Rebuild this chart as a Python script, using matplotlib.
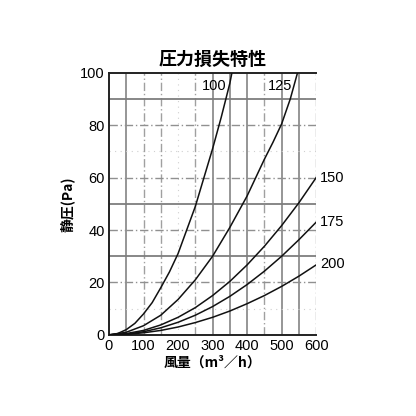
import matplotlib
matplotlib.use("Agg")
import matplotlib.pyplot as plt

# ---- data ----
x_100 = [0, 25, 50, 75, 100, 125, 150, 175, 200, 225, 250, 275, 300, 325, 350, 356]
p_100 = [0, 0.5, 2, 4.4, 8, 12.3, 18, 24, 31, 40, 49, 60, 71, 83, 96, 100]
x_125 = [0, 50, 100, 150, 200, 250, 300, 350, 375, 400, 425, 450, 475, 500, 525, 546]
p_125 = [0, 1, 3.5, 7.5, 13.5, 21, 30, 41, 47, 53, 60, 67, 73.5, 80.5, 90, 100]
airflow = [0, 50, 100, 150, 200, 250, 300, 350, 400, 450, 500, 550, 600]
p_150 = [0, 0.5, 1.7, 3.8, 6.7, 10.4, 15, 20.4, 26.7, 33.8, 41.7, 50.4, 60]
p_175 = [0, 0.3, 1.2, 2.7, 4.8, 7.5, 10.8, 14.7, 19.2, 24.3, 30, 36.3, 43]
p_200 = [0, 0.2, 0.8, 1.7, 3.0, 4.7, 6.7, 9.1, 11.9, 15, 18.5, 22.4, 26.7]
series_labels = ["100", "125", "150", "175", "200"]
x_ticks = [0, 100, 200, 300, 400, 500, 600]
y_ticks = [0, 20, 40, 60, 80, 100]
title = "圧力損失特性"
xlabel = "風量（m³／h）"
ylabel = "静圧(Pa)"

JP = ["Noto Sans CJK JP", "DejaVu Sans"]
NUM = ["Liberation Sans", "DejaVu Sans"]

fig = plt.figure(figsize=(4.16, 4.16), dpi=100)
ax = fig.add_axes([0.262, 0.195, 0.498, 0.630])
ax.set_xlim(0, 600)
ax.set_ylim(0, 100)

# grid
solid_v = [50, 300, 350, 400, 500, 550]
dash_v = [100, 150, 250, 450, 600]
faint_v = [200]
solid_h = [30, 50, 90]
dash_h = [20, 40, 60, 80]
faint_h = [10, 70]
for v in solid_v:
    ax.axvline(v, color="#8e8e8e", lw=1.3, zorder=1)
for v in dash_v:
    ax.axvline(v, color="#a0a0a0", lw=1.0, ls=(0, (6, 2, 1, 2)), zorder=1)
for v in faint_v:
    ax.axvline(v, color="#d0d0d0", lw=0.8, ls=(0, (1, 4)), zorder=1)
for h in solid_h:
    ax.axhline(h, color="#7e7e7e", lw=1.3, zorder=1)
for h in dash_h:
    ax.axhline(h, color="#909090", lw=1.0, ls=(0, (6, 2, 1, 2)), zorder=1)
for h in faint_h:
    ax.axhline(h, color="#d0d0d0", lw=0.8, ls=(0, (1, 4)), zorder=1)

# curves
for xs, ys in [(x_100, p_100), (x_125, p_125), (airflow, p_150),
               (airflow, p_175), (airflow, p_200)]:
    ax.plot(xs, ys, color="#111111", lw=1.1, zorder=3, solid_joinstyle="round")

# curve labels
lab = dict(fontsize=10.5, family=NUM, va="center")
ax.text(340, 95, series_labels[0], ha="right", **lab)
ax.text(532, 95, series_labels[1], ha="right", **lab)
ax.text(612, 60, series_labels[2], ha="left", clip_on=False, **lab)
ax.text(612, 43, series_labels[3], ha="left", clip_on=False, **lab)
ax.text(612, 27, series_labels[4], ha="left", clip_on=False, **lab)

# spines
for s in ["left", "bottom", "top"]:
    ax.spines[s].set_color("#222222")
    ax.spines[s].set_linewidth(1.4)
ax.spines["right"].set_visible(False)

ax.set_xticks(x_ticks)
ax.set_yticks(y_ticks)
ax.set_xticklabels([str(t) for t in x_ticks], family=NUM, fontsize=10.5)
ax.set_yticklabels([str(t) for t in y_ticks], family=NUM, fontsize=10.5)
ax.tick_params(length=0, pad=3)

ax.set_title(title, family=JP, fontsize=13, fontweight="bold", pad=6)
ax.set_xlabel(xlabel, family=JP, fontsize=10, fontweight="bold", labelpad=2)
ax.set_ylabel(ylabel, family=JP, fontsize=10, fontweight="bold", labelpad=4)

fig.savefig("out.png", dpi=100, facecolor="white")
